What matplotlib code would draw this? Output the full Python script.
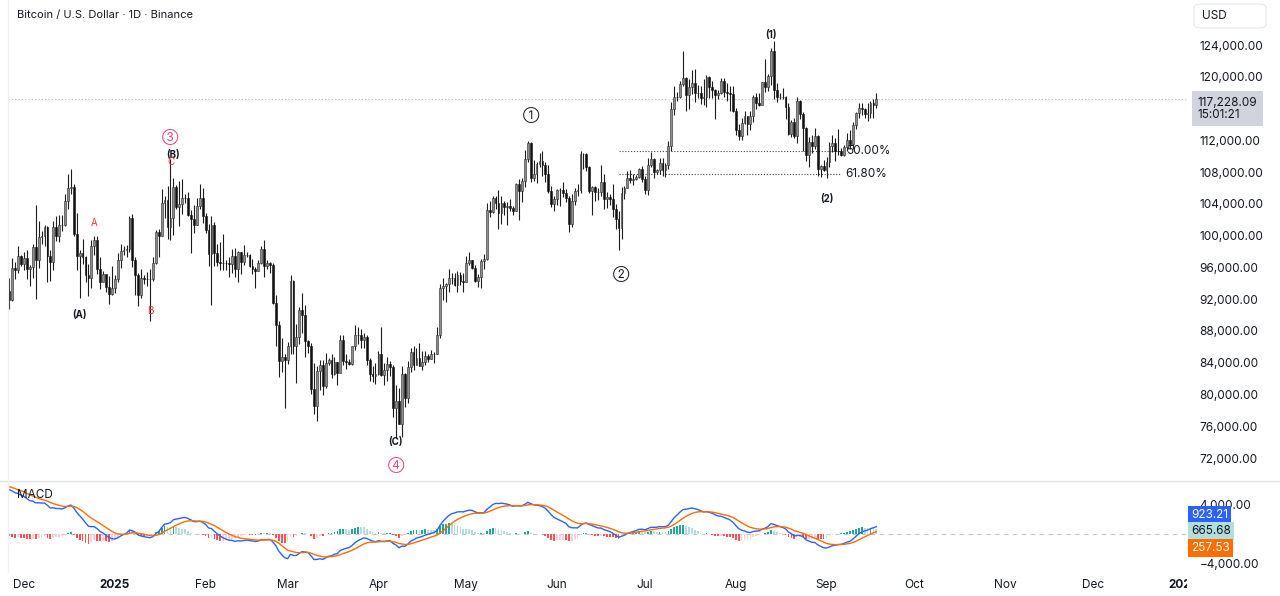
import matplotlib
matplotlib.use('Agg')
import matplotlib.pyplot as plt
import matplotlib.dates as mdates
from matplotlib.lines import Line2D
from matplotlib.patches import FancyBboxPatch
from matplotlib.ticker import FuncFormatter
import numpy as np
import pandas as pd

plt.rcParams['font.family'] = ['Inter', 'DejaVu Sans']

# BTC/USD daily, in thousands of USD
# closes before the visible window, only used to warm up the MACD
warmup_close = [
    60.80, 60.65, 60.75, 62.08, 62.05, 62.82, 62.22, 62.13, 60.58, 60.27, 62.45, 63.19, 62.85, 66.05, 67.04, 67.61,
    67.40, 68.42, 68.36, 69.00, 67.37, 67.38, 66.65, 68.16, 66.64, 67.03, 67.94, 69.90, 72.72, 72.34, 70.20,
    69.48, 69.37, 68.77, 67.83, 69.40, 75.60, 75.90, 76.55, 76.70, 80.40, 88.70, 87.95, 90.40, 87.30, 91.00,
    90.60, 89.85, 90.50, 92.30, 94.30, 98.30, 98.90, 97.70, 97.90, 93.00,
]

# visible candles, 2024-11-26 .. 2025-09-18 (open = previous close)
close_k = [
    91.95, 95.95, 95.65, 97.45, 96.40,
    97.20, 95.85, 96.00, 98.60, 96.95, 99.85, 99.90, 101.10, 97.40, 96.65, 101.10, 100.00, 101.40, 101.40, 104.30, 106.05,
    106.15, 100.20, 97.45, 97.75, 97.25, 95.10, 94.70, 98.65, 99.40, 95.80, 94.20, 95.15, 93.55, 92.65, 93.40,
    94.60, 96.90, 98.10, 98.25, 98.35, 102.25, 96.95, 95.05, 92.50, 94.70, 94.55, 94.50, 94.50, 96.55, 100.50, 99.95,
    104.10, 104.45, 101.10, 102.25, 106.15, 103.65, 103.95, 104.80, 104.70, 102.60, 102.10, 101.30, 103.75, 104.75, 102.45,
    100.65, 97.70, 101.40, 97.80, 96.65, 96.60, 96.55, 96.50, 96.45, 97.40, 95.80, 97.90, 96.65, 97.55, 97.60, 96.15,
    95.75, 95.55, 96.60, 98.35, 96.15, 96.55, 96.25, 91.55, 88.70, 84.25, 84.70, 84.35,
    86.05, 94.25, 86.10, 87.25, 90.60, 89.95, 86.75, 86.15, 80.75, 78.55, 82.95, 83.70, 81.05, 83.95, 84.35, 82.55,
    84.05, 82.70, 86.85, 84.20, 84.05, 83.80, 86.05, 87.50, 87.45, 86.90, 87.20, 84.35, 82.60, 82.35, 82.55,
    85.15, 82.50, 83.10, 83.85, 83.50, 78.35, 79.15, 76.30, 82.60, 79.60, 83.40, 85.30, 83.75, 84.55, 83.60, 84.05,
    84.90, 84.45, 85.05, 85.15, 87.50, 93.45, 93.70, 93.95, 94.70, 94.65, 93.75, 95.05, 94.25, 94.20,
    96.50, 96.90, 95.90, 94.30, 94.75, 96.85, 97.05, 103.25, 102.95, 104.80, 104.10, 102.80, 104.15, 103.55, 103.75, 103.50,
    103.15, 106.45, 105.65, 106.85, 109.65, 111.70, 107.30, 107.80, 109.00, 109.45, 108.95, 107.80, 105.65, 103.95, 104.60,
    105.70, 105.80, 105.40, 104.70, 101.50, 104.30, 105.60, 105.75, 110.25, 110.25, 108.65, 105.65, 106.10, 105.45, 105.55,
    106.80, 104.55, 104.85, 104.65, 103.30, 102.10, 100.95, 105.35, 106.05, 107.30, 106.95, 107.10, 107.35, 108.35, 107.15,
    105.70, 108.85, 109.60, 107.95, 108.20, 109.20, 108.25, 108.95, 111.30, 115.95, 117.50, 117.45, 119.10, 119.85, 117.70,
    118.70, 119.25, 117.95, 117.95, 117.30, 117.45, 119.95, 118.75, 118.35, 117.65, 117.95, 119.45, 118.05, 117.90, 117.80, 115.75,
    113.30, 112.55, 114.20, 115.05, 114.10, 115.00, 117.50, 116.65, 116.50, 119.30, 118.70, 120.15, 123.30, 118.35, 117.40,
    117.50, 117.45, 116.25, 112.85, 114.25, 112.50, 116.95, 115.35, 113.50, 110.10, 111.80, 111.25, 112.55, 108.40, 108.80, 108.25,
    109.25, 111.25, 111.70, 110.70, 110.65, 110.20, 111.15, 112.05, 111.50, 113.95, 115.50, 116.10, 115.95, 115.35, 115.40,
    116.75, 116.45, 117.22809,
]
high_k = [
    94.70, 97.20, 96.65, 98.70, 97.50,
    97.90, 98.15, 96.30, 99.00, 103.90, 101.90, 100.55, 101.40, 101.20, 98.25, 101.90, 102.50, 102.65, 102.65, 105.25, 107.80,
    108.35, 106.50, 102.80, 98.15, 99.55, 97.40, 96.40, 99.45, 99.95, 99.95, 97.30, 95.50, 95.20, 94.90, 96.15,
    95.00, 97.80, 98.95, 98.75, 98.80, 102.50, 102.70, 97.25, 95.35, 95.85, 95.00, 95.40, 95.85, 97.35, 100.70, 100.85,
    105.85, 104.95, 106.30, 109.59, 107.25, 106.35, 106.85, 107.10, 105.30, 105.45, 103.25, 103.80, 104.80, 106.45, 106.05,
    102.80, 101.50, 102.50, 101.75, 99.00, 99.20, 100.15, 96.90, 97.30, 98.30, 98.50, 98.10, 97.95, 98.80, 97.95, 97.70,
    97.05, 96.00, 96.90, 98.75, 99.50, 96.90, 96.70, 96.50, 92.50, 89.25, 87.05, 85.10,
    86.55, 95.05, 94.40, 88.90, 91.00, 92.80, 91.25, 86.85, 86.45, 84.00, 83.60, 84.35, 84.30, 85.25, 84.65, 85.05,
    84.75, 84.05, 87.45, 87.45, 85.05, 84.50, 86.10, 88.75, 88.55, 88.30, 87.80, 87.50, 84.60, 83.55, 83.95,
    85.50, 88.50, 83.95, 84.70, 84.25, 83.75, 81.25, 80.85, 83.55, 82.70, 84.25, 85.90, 86.10, 85.80, 86.45, 85.50,
    85.45, 85.10, 85.60, 85.30, 88.45, 93.85, 94.70, 94.00, 95.75, 95.30, 95.30, 95.60, 95.45, 95.25,
    97.40, 97.90, 96.95, 96.30, 95.20, 97.00, 97.70, 104.15, 104.35, 104.95, 104.95, 105.80, 104.95, 104.35, 104.20, 104.55,
    103.70, 106.65, 107.10, 107.30, 110.80, 111.95, 111.80, 109.50, 109.30, 110.40, 110.70, 109.30, 108.90, 106.30, 104.95,
    105.90, 105.95, 106.80, 105.90, 105.05, 105.30, 105.95, 106.45, 110.60, 110.40, 110.35, 108.80, 106.20, 106.20, 106.05,
    108.90, 107.75, 105.55, 105.20, 106.50, 104.00, 103.15, 106.10, 106.30, 108.10, 108.25, 107.70, 107.60, 108.50, 108.75,
    107.55, 109.80, 110.55, 109.80, 108.45, 109.75, 109.75, 109.20, 111.95, 116.80, 118.90, 118.05, 119.50, 123.20, 119.95,
    119.70, 120.85, 120.95, 118.95, 118.85, 119.70, 120.25, 120.10, 119.50, 118.45, 118.30, 119.80, 119.80, 119.25, 118.80, 118.90,
    116.10, 114.05, 114.75, 115.70, 115.10, 115.70, 117.65, 117.95, 117.90, 119.30, 122.30, 120.30, 123.65, 124.45, 119.20,
    117.95, 118.60, 117.55, 116.75, 114.60, 114.80, 117.40, 117.05, 115.55, 113.70, 112.40, 112.65, 113.50, 112.65, 108.95, 109.50,
    109.90, 111.80, 112.65, 112.25, 113.40, 111.00, 111.40, 112.90, 113.25, 114.30, 115.55, 116.65, 116.75, 116.10, 116.75,
    116.95, 117.25, 117.90,
]
low_k = [
    90.80, 91.80, 94.60, 95.35, 96.15,
    95.70, 94.50, 93.60, 94.65, 92.00, 95.95, 98.95, 98.70, 94.15, 94.30, 95.70, 99.30, 99.20, 100.60, 101.25, 103.30,
    105.30, 100.00, 95.70, 92.15, 96.40, 94.20, 92.40, 93.45, 97.60, 95.15, 93.30, 94.10, 92.90, 91.35, 92.50,
    92.75, 94.20, 95.95, 97.55, 97.25, 97.90, 96.10, 92.50, 91.20, 92.20, 93.85, 93.70, 89.25, 94.30, 96.45, 97.30,
    99.95, 102.25, 99.55, 99.45, 100.10, 103.35, 101.25, 102.75, 104.10, 102.50, 97.80, 100.30, 101.30, 103.30, 101.55,
    100.30, 96.15, 91.23, 96.15, 96.15, 95.70, 95.65, 95.70, 94.75, 95.30, 94.85, 94.10, 95.20, 96.30, 97.25, 96.05,
    95.20, 93.40, 95.55, 96.45, 94.85, 95.80, 95.25, 91.35, 86.05, 82.25, 82.80, 78.25,
    83.85, 85.05, 85.10, 81.50, 86.35, 87.80, 84.70, 85.25, 80.05, 77.50, 76.60, 80.60, 79.95, 80.80, 83.65, 82.05,
    82.45, 81.15, 82.65, 83.65, 83.20, 83.70, 83.75, 85.55, 86.30, 85.90, 85.85, 83.65, 81.65, 81.55, 81.30,
    82.45, 82.30, 81.20, 81.65, 82.35, 77.15, 74.50, 76.25, 74.60, 78.45, 78.95, 82.80, 83.05, 83.70, 83.60, 83.10,
    83.75, 84.15, 84.45, 83.95, 85.10, 87.05, 91.95, 91.65, 92.85, 93.95, 93.60, 92.85, 93.75, 92.90,
    94.15, 96.30, 95.75, 94.10, 93.50, 93.40, 95.85, 96.90, 102.35, 102.80, 103.30, 100.80, 101.45, 102.60, 101.40, 103.10,
    102.65, 103.10, 102.00, 104.20, 106.10, 109.30, 106.80, 106.90, 106.60, 108.70, 107.55, 106.70, 105.35, 103.65, 103.10,
    103.90, 103.70, 104.90, 104.20, 100.40, 101.10, 103.85, 105.05, 105.35, 108.35, 108.10, 105.40, 102.65, 104.30, 104.50,
    104.95, 103.40, 103.50, 103.90, 102.35, 100.85, 98.20, 99.60, 104.65, 105.95, 106.60, 106.35, 106.95, 107.20, 106.75,
    105.25, 105.15, 108.60, 107.30, 107.80, 107.80, 107.50, 107.40, 108.40, 110.60, 115.25, 116.95, 117.30, 118.90, 115.75,
    115.90, 117.85, 116.80, 117.30, 116.55, 116.50, 116.15, 117.30, 117.35, 114.70, 117.20, 117.85, 117.45, 116.95, 115.75, 115.55,
    112.70, 112.00, 112.00, 114.10, 112.65, 113.35, 114.25, 115.90, 116.30, 116.50, 118.10, 118.20, 118.95, 117.20, 116.80,
    117.25, 117.25, 114.70, 112.70, 112.40, 112.35, 111.70, 114.65, 110.70, 109.35, 108.70, 110.35, 110.90, 107.50, 107.40, 108.10,
    107.30, 108.65, 110.50, 109.35, 110.20, 110.00, 110.00, 110.65, 110.95, 110.90, 113.45, 114.75, 115.25, 114.80, 114.40,
    114.85, 114.75, 116.10,
]

# price scale labels shown (116,000 sits under the last-price tag)
price_ticks = [72000, 76000, 80000, 84000, 88000, 92000, 96000, 100000, 104000, 108000, 112000, 120000, 124000]

# fib retracement swing (Jun 22 low -> Jul 14 high) and levels
fib_low, fib_high = 98.2, 123.2
fib_levels = [0.5, 0.618]
fib_labels = ['50.00%', '61.80%']

# wave labels: (text, date, price in k, colour, size)
wave_labels = [
    ('\u2462', '2025-01-20', 112.6, '#e3427d', 8.5),
    ('(B)', '2025-01-21', 110.2, '#131722', 7),
    ('C', '2025-01-20', 109.3, '#f23645', 7),
    ('A', '2024-12-25', 101.6, '#f23645', 7),
    ('B', '2025-01-13', 90.5, '#f23645', 7),
    ('(A)', '2024-12-20', 90.0, '#131722', 7),
    ('\u2460', '2025-05-23', 115.3, '#131722', 8.5),
    ('\u2461', '2025-06-23', 95.3, '#131722', 8.5),
    ('(C)', '2025-04-07', 74.0, '#131722', 7),
    ('\u2463', '2025-04-07', 71.25, '#e3427d', 8.5),
    ('(1)', '2025-08-13', 125.3, '#131722', 7),
    ('(2)', '2025-09-01', 104.6, '#131722', 7),
]

month_ticks = pd.date_range('2024-12-01', '2026-01-01', freq='MS')

assert len(close_k) == len(high_k) == len(low_k)
dates = pd.date_range('2024-11-26', periods=len(close_k), freq='D')
x = mdates.date2num(dates)
close = np.array(close_k) * 1000
high = np.array(high_k) * 1000
low = np.array(low_k) * 1000
open_ = np.concatenate([[warmup_close[-1] * 1000], close[:-1]])

# MACD 12/26/9
allc = pd.Series(np.concatenate([warmup_close, close_k])) * 1000
macd_all = allc.ewm(span=12, adjust=False).mean() - allc.ewm(span=26, adjust=False).mean()
sig_all = macd_all.ewm(span=9, adjust=False).mean()
hist_all = macd_all - sig_all
n = len(close)
macd = macd_all.values[-n:]
signal = sig_all.values[-n:]
hist = hist_all.values[-n:]
hist_prev = hist_all.values[-n - 1:-1]
hist_col = np.where(hist >= 0,
                    np.where(hist >= hist_prev, '#26a69a', '#b2dfdb'),
                    np.where(hist < hist_prev, '#ff5252', '#ffcdd2'))

W, H = 1280, 596


def px_box(x0, y0, x1, y1):
    return [x0 / W, 1 - y1 / H, (x1 - x0) / W, (y1 - y0) / H]


fig = plt.figure(figsize=(12.8, 5.96), dpi=100)
ax = fig.add_axes(px_box(8, 1, 1187, 480))
axm = fig.add_axes(px_box(8, 481, 1187, 572))
axt = fig.add_axes(px_box(8, 572, 1187, 596))

d0 = mdates.date2num(pd.Timestamp('2024-12-01'))
xlim = (d0 - 16 / 2.929, d0 + 1163 / 2.929)
for a in (ax, axm, axt):
    a.set_xlim(*xlim)
    for s in a.spines.values():
        s.set_visible(False)
    a.set_xticks([])

money = FuncFormatter(lambda v, p: f'{v:,.2f}'.replace('-', '\u2212'))

# price pane
ax.set_ylim(69233, 129540)
ax.yaxis.tick_right()
ax.set_yticks(price_ticks)
ax.yaxis.set_major_formatter(money)
ax.tick_params(axis='y', length=0, pad=9, labelsize=8.5, labelcolor='#131722')

up = close >= open_
ax.vlines(x, low, high, color='#1c1c1c', lw=0.8, zorder=3)
ax.bar(x[up], (close - open_)[up], bottom=open_[up], width=0.62, color='#8e8e8e',
       edgecolor='#2a2a2a', linewidth=0.4, zorder=4)
ax.bar(x[~up], (close - open_)[~up], bottom=open_[~up], width=0.62, color='#111111',
       edgecolor='#111111', linewidth=0.4, zorder=4)

last = close[-1]
ax.axhline(last, color='#b8bbc4', lw=0.8, ls=(0, (1, 2)), zorder=1)
ax.annotate(f'{last:,.2f}\n15:01:21', xy=(1, last), xycoords=('axes fraction', 'data'),
            xytext=(7.5, -7), textcoords='offset points', ha='left', va='center', fontsize=8.5,
            color='#131722', linespacing=1.0, annotation_clip=False, zorder=10,
            bbox=dict(boxstyle='square,pad=0.5', fc='#d1d4dc', ec='none'))

fx0 = mdates.date2num(pd.Timestamp('2025-06-22'))
fx1 = mdates.date2num(pd.Timestamp('2025-09-06'))
for lev, lab in zip(fib_levels, fib_labels):
    y = (fib_high - (fib_high - fib_low) * lev) * 1000
    ax.plot([fx0, fx1], [y, y], color='#444444', lw=0.8, ls=(0, (1, 1.6)), zorder=1)
    ax.text(fx1 + 1.5, y, lab, fontsize=8.5, color='#131722', va='center', ha='left', zorder=1)

for txt, d, p, col, fs in wave_labels:
    ax.text(mdates.date2num(pd.Timestamp(d)), p * 1000, txt, color=col, fontsize=fs,
            fontweight='bold' if txt.startswith('(') else 'normal', ha='center', va='center', zorder=6)

# MACD pane
axm.set_ylim(-5220, 7120)
axm.yaxis.tick_right()
axm.set_yticks([-4000, 4000])
axm.yaxis.set_major_formatter(money)
axm.tick_params(axis='y', length=0, pad=9, labelsize=8.5, labelcolor='#131722')
axm.axhline(0, color='#c3c6ce', lw=0.8, ls=(0, (4, 4)), zorder=1)
axm.bar(x, hist, width=0.6, color=hist_col, zorder=2)
axm.plot(x, macd, color='#2962ff', lw=1.0, zorder=3)
axm.plot(x, signal, color='#ff6d00', lw=1.0, zorder=3)
for val, off, fc, tc in [(macd[-1], 13.5, '#2962ff', 'white'), (hist[-1], 1.5, '#b2dfdb', '#131722'),
                         (signal[-1], -10.5, '#ff6d00', 'white')]:
    axm.annotate(f'{val:,.2f}', xy=(1, 0), xycoords='axes fraction',
                 xytext=(3, (533.5 - 572) * -0.72 + off), textcoords='offset points',
                 ha='left', va='center', fontsize=8.5, color=tc, annotation_clip=False, zorder=10,
                 bbox=dict(boxstyle='square,pad=0.25', fc=fc, ec='none'))
fig.text(17 / W, 1 - 495 / H, 'MACD', fontsize=8.5, color='#131722', va='center')

# time scale
axt.set_ylim(0, 1)
axt.set_yticks([])
axt.patch.set_alpha(0)
for m in month_ticks:
    lab = str(m.year) if m.month == 1 else m.strftime('%b')
    axt.text(mdates.date2num(m), 0.45, lab, ha='center', va='center', fontsize=8.5, color='#131722',
             fontweight='bold' if m.month == 1 else 'normal', clip_on=True)

fig.text(17 / W, 1 - 15 / H, 'Bitcoin / U.S. Dollar \u00b7 1D \u00b7 Binance', fontsize=8,
         color='#131722', va='center')

# frame lines and the USD box
fig.add_artist(Line2D([0, 1], [1 - 480.5 / H] * 2, color='#e0e3eb', lw=1))
fig.add_artist(Line2D([8 / W] * 2, [1 - 572 / H, 1], color='#eef0f3', lw=1))
fig.add_artist(FancyBboxPatch((1194 / W, 1 - 28 / H), 72 / W, 24 / H, boxstyle='round,pad=0,rounding_size=0.006',
                              transform=fig.transFigure, fc='white', ec='#e6e8ee', lw=0.8))
fig.text(1202 / W, 1 - 16 / H, 'USD', fontsize=8.5, color='#131722', va='center')

fig.savefig('out.png', dpi=100, facecolor='white')
